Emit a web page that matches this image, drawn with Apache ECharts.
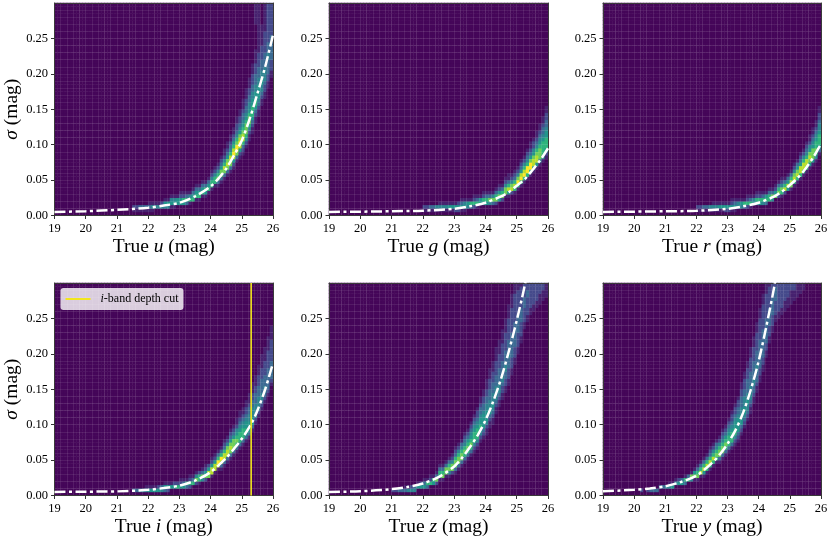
<!DOCTYPE html>
<html><head><meta charset="utf-8">
<style>html,body{margin:0;padding:0;background:#fff}#c{width:831px;height:540px}</style>
<script src="https://cdn.jsdelivr.net/npm/echarts@6/dist/echarts.min.js"></script>
</head><body><div id="c"></div>
<script>
// Tick labels
const magTicks = [19,20,21,22,23,24,25,26];
const sigmaTicks = [0,0.05,0.10,0.15,0.20,0.25];
const bands = ['u','g','r','i','z','y'];
const depthCutMag = 25.3;

// Median error curves: [true magnitude, sigma]
const curveU = [[19,.005],[20,.006],[21,.008],[22,.011],[22.5,.014],[23,.018],[23.5,.027],[24,.041],[24.25,.052],[24.5,.066],[24.75,.085],[25,.106],[25.25,.136],[25.5,.172],[25.75,.21],[26,.255]];
const curveG = [[19,.005],[20,.0054],[21,.006],[22,.0068],[23,.0095],[23.5,.013],[24,.018],[24.5,.027],[24.75,.033],[25,.042],[25.25,.051],[25.5,.064],[25.75,.078],[26,.095]];
const curveR = [[19,.005],[20,.0054],[21,.006],[22,.0066],[23,.0095],[23.5,.013],[24,.018],[24.5,.027],[24.75,.034],[25,.043],[25.25,.053],[25.5,.066],[25.75,.082],[26,.101]];
const curveI = [[19,.005],[20,.0054],[21,.0058],[22,.008],[22.5,.0105],[23,.014],[23.5,.021],[24,.033],[24.5,.053],[24.75,.066],[25,.08],[25.3,.101],[25.5,.12],[25.75,.15],[26,.187]];
const curveZ = [[19,.005],[20,.006],[21,.009],[21.5,.012],[22,.017],[22.5,.026],[23,.041],[23.25,.053],[23.5,.068],[23.75,.085],[24,.106],[24.25,.133],[24.5,.165],[24.75,.204],[25,.247],[25.25,.295],[25.4,.33]];
const curveY = [[19,.006],[20,.008],[20.5,.01],[21,.013],[21.5,.019],[22,.028],[22.5,.046],[22.75,.058],[23,.073],[23.25,.092],[23.5,.117],[23.75,.15],[24,.19],[24.25,.24],[24.5,.295],[24.6,.325]];

// Density: [column magnitude, first sigma row (0.005 mag each), level 0-9 per row]
const densityU = [[21.5,1,"12"],[21.6,1,"12"],[21.7,1,"13"],[21.8,1,"13"],[21.9,1,"13"],[22.0,1,"131"],[22.1,1,"141"],[22.2,2,"41"],[22.3,2,"41"],[22.4,2,"42"],[22.5,2,"451"],[22.6,2,"451"],[22.7,2,"1541"],[22.8,2,"1541"],[22.9,3,"551"],[23.0,3,"5521"],[23.1,3,"5621"],[23.2,3,"3631"],[23.3,3,"1641"],[23.4,4,"6531"],[23.5,4,"16531"],[23.6,4,"16531"],[23.7,5,"16531"],[23.8,5,"15631"],[23.9,6,"16531"],[24.0,7,"166421"],[24.1,8,"166421"],[24.2,8,"1376421"],[24.3,9,"13775321"],[24.4,10,"137864211"],[24.5,11,"1378753211"],[24.6,12,"13788643211"],[24.7,13,"125898653211"],[24.8,15,"1379976432211"],[24.9,16,"12589875432211"],[25.0,17,"1236887654332111"],[25.1,19,"12467776543322111"],[25.2,21,"112467765443322111"],[25.3,23,"11235666554433222111"],[25.4,26,"112356655443332221111"],[25.5,28,"1123455554433322221111"],[25.6,31,"11234455443332222111111"],[25.7,33,"112234444333322222211111111"],[25.8,36,"112233334433322222222222"],[25.9,39,"112223333333222222222"],[25.5,50,"1111111111"],[25.4,54,"111111"]];
const densityG = [[22.0,1,"12"],[22.1,1,"12"],[22.2,1,"13"],[22.3,1,"13"],[22.4,1,"14"],[22.5,1,"141"],[22.6,1,"141"],[22.7,1,"141"],[22.8,1,"151"],[22.9,1,"151"],[23.0,1,"251"],[23.1,1,"252"],[23.2,1,"1531"],[23.3,1,"1541"],[23.4,2,"451"],[23.5,2,"361"],[23.6,2,"2621"],[23.7,2,"1631"],[23.8,3,"551"],[23.9,3,"4621"],[24.0,3,"5631"],[24.1,3,"4731"],[24.2,3,"3741"],[24.3,3,"27631"],[24.4,4,"57521"],[24.5,4,"27631"],[24.6,5,"177421"],[24.7,5,"1586311"],[24.8,6,"287421"],[24.9,6,"1686321"],[25.0,7,"1697421"],[25.1,8,"16985321"],[25.2,9,"16986421"],[25.3,10,"169964321"],[25.4,11,"1699753211"],[25.5,12,"1588754221"],[25.6,13,"15887643211"],[25.7,14,"147776543211"],[25.8,15,"1466665433211"],[25.9,16,"125666554332211"]];
const densityR = [[22.0,1,"12"],[22.1,1,"12"],[22.2,1,"13"],[22.3,1,"13"],[22.4,1,"14"],[22.5,1,"141"],[22.6,1,"141"],[22.7,1,"151"],[22.8,1,"151"],[22.9,1,"251"],[23.0,1,"251"],[23.1,1,"1521"],[23.2,1,"1531"],[23.3,2,"441"],[23.4,2,"451"],[23.5,2,"361"],[23.6,2,"2621"],[23.7,2,"1631"],[23.8,3,"541"],[23.9,3,"4621"],[24.0,3,"5621"],[24.1,3,"4631"],[24.2,3,"3651"],[24.3,4,"6631"],[24.4,4,"4731"],[24.5,5,"7521"],[24.6,5,"27631"],[24.7,5,"167421"],[24.8,6,"28631"],[24.9,7,"58531"],[25.0,7,"178631"],[25.1,8,"1687421"],[25.2,9,"1687531"],[25.3,10,"16885321"],[25.4,11,"16886421"],[25.5,12,"168864321"],[25.6,13,"1578754211"],[25.7,14,"15777543211"],[25.8,15,"146766543211"],[25.9,17,"13566654432211"]];
const densityI = [[21.5,1,"3"],[21.6,1,"3"],[21.7,1,"4"],[21.8,1,"4"],[21.9,1,"41"],[22.0,1,"51"],[22.1,1,"51"],[22.2,1,"51"],[22.3,1,"52"],[22.4,1,"43"],[22.5,1,"351"],[22.6,1,"251"],[22.7,2,"51"],[22.8,2,"52"],[22.9,2,"62"],[23.0,2,"521"],[23.1,2,"531"],[23.2,2,"361"],[23.3,2,"2621"],[23.4,3,"631"],[23.5,3,"2741"],[23.6,3,"1662"],[23.7,4,"4731"],[23.8,4,"27521"],[23.9,5,"7852"],[24.0,5,"188521"],[24.1,6,"188521"],[24.2,7,"189631"],[24.3,7,"1389631"],[24.4,8,"13886321"],[24.5,9,"13887421"],[24.6,10,"137875321"],[24.7,11,"137775321"],[24.8,12,"1367654211"],[24.9,13,"13666543211"],[25.0,14,"13666543211"],[25.1,15,"135655432211"],[25.2,16,"1355544332111"],[25.3,18,"13554443322111"],[25.4,20,"12444433322111"],[25.5,22,"124444333222111"],[25.6,24,"1234433332221111"],[25.7,26,"1234433322221111"],[25.8,28,"12333333222221111"],[25.9,31,"12333332222221111"]];
const densityZ = [[21.0,1,"2"],[21.1,1,"2"],[21.2,1,"3"],[21.3,1,"3"],[21.4,1,"31"],[21.5,1,"41"],[21.6,1,"42"],[21.7,1,"43"],[21.8,2,"51"],[21.9,2,"52"],[22.0,2,"531"],[22.1,2,"361"],[22.2,3,"621"],[22.3,3,"561"],[22.4,3,"2731"],[22.5,4,"16631"],[22.6,4,"17631"],[22.7,5,"17731"],[22.8,5,"147631"],[22.9,6,"277421"],[23.0,6,"13776321"],[23.1,7,"13776421"],[23.2,8,"13776431"],[23.3,9,"136764321"],[23.4,10,"136765321"],[23.5,11,"1367654321"],[23.6,12,"12466654321"],[23.7,13,"124666543221"],[23.8,15,"1245655433211"],[23.9,16,"12355554332211"],[24.0,17,"1124555443322111"],[24.1,19,"11235544333222111"],[24.2,20,"112345444333222111"],[24.3,23,"1123444433322221111"],[24.4,25,"1123444333322221111"],[24.5,27,"11223443333222221111"],[24.6,29,"112233443333222221111"],[24.7,31,"11222333433332222221111"],[24.8,34,"11222333333322222221111"],[24.9,37,"11222333333322222222111"],[25.0,40,"11222233333222222211"],[25.1,43,"11222233332222221"],[25.2,47,"1122223332222"],[25.3,49,"11222223322"],[25.4,51,"112222222"],[25.5,52,"11222222"],[25.6,53,"1122222"],[25.7,54,"111222"],[25.8,55,"11122"],[25.9,56,"1111"]];
const densityY = [[20.2,1,"2"],[20.4,1,"2"],[20.5,1,"3"],[20.6,1,"3"],[20.7,1,"3"],[20.8,2,"3"],[20.9,2,"3"],[21.0,2,"4"],[21.1,2,"41"],[21.2,2,"51"],[21.3,3,"41"],[21.4,3,"52"],[21.5,3,"53"],[21.6,3,"361"],[21.7,4,"63"],[21.8,4,"471"],[21.9,4,"1751"],[22.0,4,"17631"],[22.1,5,"18631"],[22.2,5,"158631"],[22.3,6,"168631"],[22.4,7,"1686321"],[22.5,8,"1686421"],[22.6,9,"1676431"],[22.7,9,"13776421"],[22.8,10,"137764321"],[22.9,11,"136765321"],[23.0,12,"1366654321"],[23.1,13,"13666543221"],[23.2,14,"124665543221"],[23.3,15,"1235555433221"],[23.4,17,"123555443332211"],[23.5,19,"1234554443322211"],[23.6,21,"12344544333322211"],[23.7,23,"1123444433332222111"],[23.8,26,"1123344333332222111"],[23.9,29,"11233344333322222111"],[24.0,32,"112233333333222222111"],[24.1,35,"1122333333332222222111"],[24.2,39,"112233333332222222111"],[24.3,43,"11222333332222221"],[24.4,46,"11222333332222"],[24.5,49,"11222233332"],[24.6,50,"1122222222"],[24.7,51,"112222222"],[24.8,52,"11122222"],[24.9,53,"1112222"],[25.0,54,"111122"],[25.1,55,"11122"],[25.2,56,"1111"],[25.3,57,"111"],[25.4,58,"11"]];

const curves = [curveU,curveG,curveR,curveI,curveZ,curveY];
const densities = [densityU,densityG,densityR,densityI,densityZ,densityY];

const levelColors = ['#450659','#47226f','#454a8b','#3c6b93','#2e8490','#22958b','#2fb47c','#6ece58','#b5de2b','#fde725'];
const SERIF = '"Liberation Serif","Times New Roman",serif';
const COLS = 70, ROWS = 60;
const colCats = Array.from({length:COLS},(_,i)=>i);
const rowCats = Array.from({length:ROWS},(_,i)=>i);

function cells(table){
  const g = colCats.map(()=>rowCats.map(()=>0));
  table.forEach(([mag,start,levels])=>{
    const c = Math.round((mag-19)*10);
    [...levels].forEach((d,k)=>{ if(start+k<ROWS) g[c][start+k] = Math.max(g[c][start+k],+d); });
  });
  const out=[];
  colCats.forEach(c=>rowCats.forEach(r=>out.push([c,r,g[c][r]])));
  return out;
}

const lefts=[54.5,329,603], widths=[218.5,219,218], tops=[3,283], height=212.5;
const grid=[],xAxis=[],yAxis=[],series=[];
const spine={show:true,lineStyle:{color:'#3a3a3a',width:1}};
const plaid={show:true,interval:1,lineStyle:{color:'rgba(255,255,255,0.085)',width:1}};
const rich={n:{fontFamily:SERIF,fontSize:19.5,color:'#000'},i:{fontFamily:SERIF,fontSize:19.5,fontStyle:'italic',color:'#000'}};

bands.forEach((b,p)=>{
  const col=p%3,row=p<3?0:1;
  grid.push({left:lefts[col],width:widths[col],top:tops[row],height:height,containLabel:false});
  xAxis.push({type:'value',gridIndex:p,position:'bottom',min:19,max:26,interval:1,z:3,
    axisLine:{...spine,onZero:false},axisTick:{show:true,length:3.5,lineStyle:{color:'#333'}},
    axisLabel:{fontFamily:SERIF,fontSize:12.5,color:'#000',margin:6.5,formatter:v=>magTicks.includes(v)?String(v):''},
    splitLine:{show:false},
    name:'{n|True }{i|'+b+'}{n| (mag)}',nameLocation:'middle',nameGap:21,nameTextStyle:{rich}});
  yAxis.push({type:'value',gridIndex:p,position:'left',min:0,max:0.3,z:3,
    axisLine:{...spine,onZero:false},
    axisTick:{show:true,length:3.5,lineStyle:{color:'#333'},customValues:sigmaTicks},
    axisLabel:{fontFamily:SERIF,fontSize:12.5,color:'#000',margin:6.5,customValues:sigmaTicks,formatter:v=>v.toFixed(2)},
    splitLine:{show:false},
    ...(col===0?{name:'{i|\u03C3}{n| (mag)}',nameLocation:'middle',nameGap:31,nameRotate:90,nameTextStyle:{rich}}:{})});
  xAxis.push({type:'category',gridIndex:p,position:'top',data:colCats,z:3,
    axisLine:{...spine,onZero:false},axisTick:{show:false},axisLabel:{show:false},splitLine:plaid});
  yAxis.push({type:'category',gridIndex:p,position:'right',data:rowCats,z:3,
    axisLine:{...spine,onZero:false},axisTick:{show:false},axisLabel:{show:false},splitLine:plaid});
  series.push({type:'heatmap',name:'density '+b,xAxisIndex:2*p+1,yAxisIndex:2*p+1,data:cells(densities[p]),z:1,silent:true,progressive:0,itemStyle:{borderWidth:0}});
  series.push({type:'line',name:'median '+b,xAxisIndex:2*p,yAxisIndex:2*p,data:curves[p],smooth:0.3,showSymbol:false,symbol:'none',z:6,clip:true,
    lineStyle:{color:'#fff',width:2.5,type:[11,3.5,3,3.5]}});
  if(b==='i'){
    series.push({type:'line',name:'i-band depth cut',xAxisIndex:2*p,yAxisIndex:2*p,data:[[depthCutMag,0],[depthCutMag,0.3]],showSymbol:false,symbol:'none',z:7,
      lineStyle:{color:'#f2e61e',width:1.6},itemStyle:{color:'#f2e61e'}});
  }
});

const chart=echarts.init(document.getElementById('c'),null,{renderer:'canvas'});
chart.setOption({
  animation:false,backgroundColor:'#fff',tooltip:{show:false},
  grid,xAxis,yAxis,series,
  visualMap:{show:false,type:'continuous',min:0,max:9,dimension:2,
    seriesIndex:series.map((s,i)=>s.type==='heatmap'?i:-1).filter(i=>i>=0),
    inRange:{color:levelColors}},
  legend:{show:true,left:60.5,top:288,data:[{name:'i-band depth cut',icon:'rect'}],
    orient:'horizontal',itemWidth:25,itemHeight:2,padding:[5,5,5,5],
    backgroundColor:'rgba(255,255,255,0.8)',borderRadius:3,z:8,
    formatter:()=>'{g|}{i|i}{t|-band depth cut}',
    textStyle:{rich:{g:{width:5},i:{fontFamily:SERIF,fontStyle:'italic',fontSize:12,color:'#000'},t:{fontFamily:SERIF,fontSize:12,color:'#000'}}}}
});
</script></body></html>
